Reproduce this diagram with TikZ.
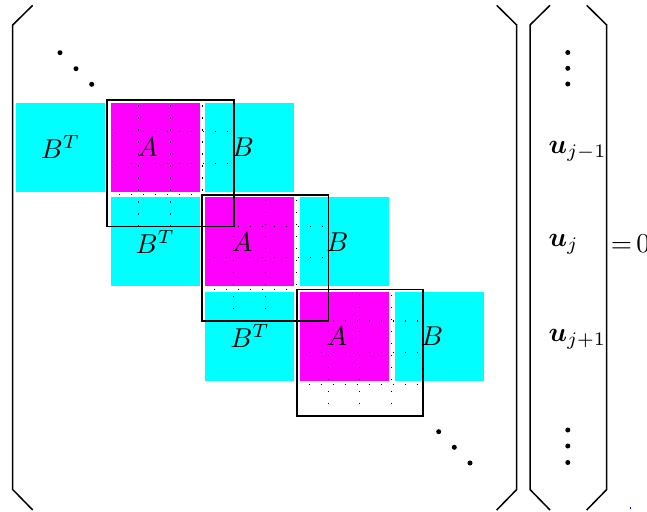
\documentclass[tikz,border=0pt]{standalone}
\usepackage{amsmath}
\definecolor{cy}{RGB}{0,255,255}
\definecolor{mg}{RGB}{255,0,255}
\begin{document}
\begin{tikzpicture}[x=0.3667pt,y=-0.3667pt,
  griddot/.style={line width=0.4pt, dash pattern=on 0.4pt off 4pt},
  boxline/.style={line width=0.6pt},
  brk/.style={line width=0.55pt},
  lbl/.style={inner sep=0pt},
  bigdot/.style={fill=black}]
\useasboundingbox (0,0) rectangle (647,512);
\def\P{94.7}
% coloured blocks
\foreach \r in {0,1,2} {
  \pgfmathsetmacro\yy{102.5+\P*\r}
  \foreach \c/\col in {0/cy,1/mg,2/cy} {
    \pgfmathsetmacro\xx{16+\P*(\r+\c)}
    \fill[\col] (\xx,\yy) rectangle ++(89,89);
  }
}
% dotted grids and stencil boxes
\foreach \k in {0,1,2} {
  \pgfmathsetmacro\bx{107.3+\P*\k}
  \pgfmathsetmacro\by{100+\P*\k}
  \foreach \i in {1,2,3} {
    \draw[griddot] (\bx+31.625*\i,\by+126.5) -- (\bx+31.625*\i,\by);
    \draw[griddot] (\bx,\by+31.625*\i) -- (\bx+126.5,\by+31.625*\i);
  }
  \draw[boxline] (\bx,\by) rectangle ++(126.5,126.5);
}
% block labels
\foreach \r in {0,1,2} {
  \node[lbl] (bt\r) at (60.5+\P*\r,147+\P*\r) {$B^T$};
  \node[lbl] (a\r) at (147.5+\P*\r,147+\P*\r) {$A$};
  \node[lbl] (b\r) at (242.8+\P*\r,147+\P*\r) {$B$};
}
% brackets
\draw[brk] (32.7,5.3) -- (12.7,25) -- (12.7,489.5) -- (32.7,510);
\draw[brk] (496.7,5.3) -- (516.7,25) -- (516.7,489.5) -- (496.7,510);
\draw[brk] (550,5.3) -- (530,25) -- (530,489.5) -- (550,510);
\draw[brk] (586.7,5.3) -- (606.7,25) -- (606.7,489.5) -- (586.7,510);
% diagonal dots
\foreach \x/\y in {60/52.7,76/68.7,91.7/84.3,438.7/431.7,454.3/447.3,470/463} {
  \fill[bigdot] (\x,\y) circle (0.92pt);
}
% vertical dots
\foreach \y in {52.5,68.3,84,430,446,462.5} {
  \fill[bigdot] (567.8,\y) circle (0.92pt);
}
% vector entries
\node[lbl,anchor=base west] (u1) at (548,153.5) {$\boldsymbol{u}_{j-1}$};
\node[lbl,anchor=base west] (u2) at (548,246.5) {$\boldsymbol{u}_{j}$};
\node[lbl,anchor=base west] (u3) at (548,341.5) {$\boldsymbol{u}_{j+1}$};
\node[lbl,anchor=base west] (eq) at (610.3,252.5) {$=$\kern1.6pt0};
\fill[blue] (629.5,507.3) rectangle ++(1.6,1.6);
\end{tikzpicture}
\end{document}
